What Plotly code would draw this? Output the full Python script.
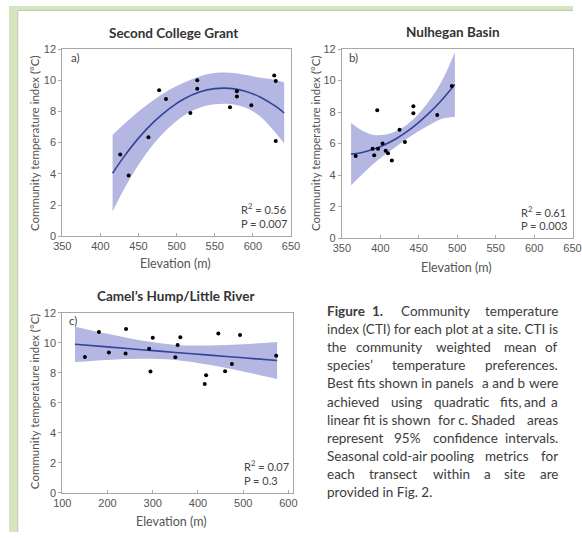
import plotly.graph_objects as go

# ---------------- data ----------------
# Panel a: Second College Grant
a_elev = [426, 437, 463, 477, 486, 518, 527, 527, 570, 579, 579, 598, 628, 630, 630]
a_cti = [5.24, 3.90, 6.35, 9.36, 8.80, 7.90, 10.0, 9.45, 8.27, 9.30, 8.95, 8.40, 10.3, 9.95, 6.10]
a_fit_x = [416, 430, 450, 470, 490, 510, 530, 550, 570, 590, 610, 630, 641]
a_fit_y = [4.04, 5.04, 6.29, 7.33, 8.17, 8.81, 9.24, 9.46, 9.48, 9.30, 8.91, 8.32, 7.90]
a_ci_hi = [6.49, 7.14, 7.99, 8.73, 9.37, 9.86, 10.24, 10.46, 10.48, 10.35, 10.16, 10.02, 9.85]
a_ci_lo = [1.59, 2.94, 4.59, 5.93, 6.97, 7.76, 8.24, 8.46, 8.48, 8.25, 7.66, 6.62, 5.95]

# Panel b: Nulhegan Basin
b_elev = [368, 392, 390, 396, 397, 403, 407, 410, 415, 425, 432, 443, 443, 474, 493]
b_cti = [5.22, 5.26, 5.68, 8.12, 5.68, 6.01, 5.55, 5.39, 4.93, 6.88, 6.11, 8.37, 7.92, 7.81, 9.66]
b_fit_x = [362, 375, 390, 405, 420, 435, 450, 465, 480, 497]
b_fit_y = [5.33, 5.42, 5.62, 5.91, 6.29, 6.77, 7.35, 8.01, 8.77, 9.75]
b_ci_hi = [7.30, 6.87, 6.57, 6.56, 6.79, 7.22, 7.90, 8.81, 9.97, 11.80]
b_ci_lo = [3.36, 3.97, 4.67, 5.26, 5.79, 6.32, 6.80, 7.21, 7.57, 7.70]

# Panel c: Camel's Hump/Little River
c_elev = [150, 181, 203, 241, 240, 292, 295, 300, 350, 355, 361, 415, 418, 445, 460, 475, 493, 573]
c_cti = [9.07, 10.74, 9.37, 10.93, 9.30, 9.61, 8.09, 10.35, 9.04, 9.87, 10.39, 7.26, 7.85, 10.63, 8.11, 8.59, 10.54, 9.15]
c_fit_x = [128, 200, 275, 350, 425, 500, 575]
c_fit_y = [9.91, 9.74, 9.55, 9.37, 9.19, 9.01, 8.83]
c_ci_hi = [11.09, 10.61, 10.16, 9.87, 9.83, 9.92, 10.07]
c_ci_lo = [8.73, 8.87, 8.94, 8.87, 8.55, 8.10, 7.59]

titles = ["Second College Grant", "Nulhegan Basin", "Camel\u2019s Hump/Little River"]
panel_tags = ["a)", "b)", "c)"]
r2_labels = ["R<sup>2</sup> = 0.56", "R<sup>2</sup> = 0.61", "R<sup>2</sup> = 0.07"]
p_labels = ["P = 0.007", "P = 0.003", "P = 0.3"]
y_title = "Community temperature index (\u00b0C)"
x_title = "Elevation (m)"
y_ticks = [0, 2, 4, 6, 8, 10, 12]
ab_x_ticks = [350, 400, 450, 500, 550, 600, 650]
c_x_ticks = [100, 200, 300, 400, 500, 600]

# ---------------- layout helpers ----------------
W, H = 582, 538
def fx(px):
    return px / W
def fy(py):
    return 1 - py / H

BAND = "rgba(150,155,215,0.72)"
LINE = "#33439a"
AX = "#a8a8a8"
TXT = "#555555"
FONT = "Lato"

fig = go.Figure()

panels = [
    dict(x=a_elev, y=a_cti, fx_=a_fit_x, fy_=a_fit_y, hi=a_ci_hi, lo=a_ci_lo, xa="x", ya="y"),
    dict(x=b_elev, y=b_cti, fx_=b_fit_x, fy_=b_fit_y, hi=b_ci_hi, lo=b_ci_lo, xa="x2", ya="y2"),
    dict(x=c_elev, y=c_cti, fx_=c_fit_x, fy_=c_fit_y, hi=c_ci_hi, lo=c_ci_lo, xa="x3", ya="y3"),
]
for p in panels:
    fig.add_trace(go.Scatter(x=p["fx_"], y=p["lo"], mode="lines", line=dict(width=0, shape="spline"),
                             xaxis=p["xa"], yaxis=p["ya"], showlegend=False, hoverinfo="skip"))
    fig.add_trace(go.Scatter(x=p["fx_"], y=p["hi"], mode="lines", line=dict(width=0, shape="spline"),
                             fill="tonexty", fillcolor=BAND,
                             xaxis=p["xa"], yaxis=p["ya"], showlegend=False, hoverinfo="skip"))
    fig.add_trace(go.Scatter(x=p["fx_"], y=p["fy_"], mode="lines", line=dict(color=LINE, width=1.6, shape="spline"),
                             xaxis=p["xa"], yaxis=p["ya"], showlegend=False))
    fig.add_trace(go.Scatter(x=p["x"], y=p["y"], mode="markers", marker=dict(color="black", size=4),
                             xaxis=p["xa"], yaxis=p["ya"], showlegend=False))

# plot area pixel boxes: (left, right, top, bottom)
boxes = [(55, 291, 44, 235.5), (343.5, 581.5, 44, 237.5), (55, 293, 314, 498)]
xranges = [[350, 650], [350, 650], [100, 610]]
xtickss = [ab_x_ticks, ab_x_ticks, c_x_ticks]

axis_common = dict(showgrid=False, zeroline=False, showline=True, linecolor=AX, linewidth=1,
                   mirror=True, tickfont=dict(family="Liberation Sans", size=11, color=TXT))
for i, (l, r, t, b) in enumerate(boxes):
    sx = "" if i == 0 else str(i + 1)
    fig.update_layout(**{
        "xaxis" + sx: dict(domain=[fx(l), fx(r)], range=xranges[i], tickvals=xtickss[i],
                           anchor="y" + sx, ticks="inside", ticklen=3, tickcolor=AX, **axis_common),
        "yaxis" + sx: dict(domain=[fy(b), fy(t)], range=[0, 12], tickvals=y_ticks,
                           anchor="x" + sx, ticks="outside", ticklen=3, tickcolor=AX, **axis_common),
    })

ann = []
title_pos = [(170, 28), (458, 27), (172, 297)]
xtitle_pos = [(172, 263), (462, 267), (168, 527)]
ytitle_pos = [(27, 140), (317, 140), (27, 404)]
tag_pos = [(62, 53), (349, 53), (60, 322)]
r2_pos = [(237, 207), (526, 210), (240, 470)]
p_pos = [(237, 222), (526, 225), (240, 485)]
for i in range(3):
    ann.append(dict(text="<b>" + titles[i] + "</b>", x=fx(title_pos[i][0]), y=fy(title_pos[i][1]),
                    xref="paper", yref="paper", showarrow=False, xanchor="center", yanchor="middle",
                    font=dict(family=FONT, size=13.5, color="#333333")))
    ann.append(dict(text=x_title, x=fx(xtitle_pos[i][0]), y=fy(xtitle_pos[i][1]),
                    xref="paper", yref="paper", showarrow=False, xanchor="center", yanchor="middle",
                    font=dict(family=FONT, size=12.5, color=TXT)))
    ann.append(dict(text=y_title, x=fx(ytitle_pos[i][0]), y=fy(ytitle_pos[i][1]), textangle=-90,
                    xref="paper", yref="paper", showarrow=False, xanchor="center", yanchor="middle",
                    font=dict(family=FONT, size=11.5, color=TXT)))
    ann.append(dict(text=panel_tags[i], x=fx(tag_pos[i][0]), y=fy(tag_pos[i][1]),
                    xref="paper", yref="paper", showarrow=False, xanchor="left", yanchor="middle",
                    font=dict(family=FONT, size=11.5, color="#444444")))
    ann.append(dict(text=r2_labels[i], x=fx(r2_pos[i][0]), y=fy(r2_pos[i][1]),
                    xref="paper", yref="paper", showarrow=False, xanchor="left", yanchor="middle",
                    font=dict(family=FONT, size=11, color="#444444")))
    ann.append(dict(text=p_labels[i], x=fx(p_pos[i][0]), y=fy(p_pos[i][1]),
                    xref="paper", yref="paper", showarrow=False, xanchor="left", yanchor="middle",
                    font=dict(family=FONT, size=11, color="#444444")))

# caption (justified by placing word groups)
caption_lines = [
    [("<b>Figure</b>", 326, "left"), ("<b>1.</b>", 373, "left"), ("Community", 440, "center"), ("temperature", 569, "right")],
    [("index (CTI) for each plot at a site. CTI", 326, "left"), ("is", 569, "right")],
    [("the", 326, "left"), ("community", 392, "center"), ("weighted", 469, "center"), ("mean", 527, "center"), ("of", 569, "right")],
    [("species\u2019", 326, "left"), ("temperature", 433, "center"), ("preferences.", 569, "right")],
    [("Best fits shown in panels", 326, "left"), ("a and b", 510, "center"), ("were", 569, "right")],
    [("achieved", 326, "left"), ("using", 410, "center"), ("quadratic", 467, "center"), ("fits,", 517, "center"), ("and", 543, "center"), ("a", 569, "right")],
    [("linear fit is shown", 326, "left"), ("for c. Shaded", 482, "center"), ("areas", 569, "right")],
    [("represent", 326, "left"), ("95%", 411, "center"), ("confidence", 471, "center"), ("intervals.", 569, "right")],
    [("Seasonal cold-air pooling", 326, "left"), ("metrics", 514, "center"), ("for", 569, "right")],
    [("each", 326, "left"), ("transect", 396, "center"), ("within", 457, "center"), ("a", 494, "center"), ("site", 522, "center"), ("are", 569, "right")],
    [("provided in Fig. 2.", 326, "left")],
]
line_y = [312, 330, 349, 367.5, 386, 405, 423, 441.5, 460, 479, 497]
for words, ly in zip(caption_lines, line_y):
    for txt, wx, anc in words:
        ann.append(dict(text=txt, x=fx(wx), y=fy(ly), xref="paper", yref="paper", showarrow=False,
                        xanchor=anc, yanchor="middle", font=dict(family=FONT, size=13.5, color="#3c3c3c")))

fig.update_layout(
    width=W, height=H, margin=dict(l=0, r=0, t=0, b=0),
    paper_bgcolor="white", plot_bgcolor="rgba(0,0,0,0)",
    annotations=ann,
    shapes=[
        dict(type="rect", xref="paper", yref="paper", x0=0, x1=1, y0=fy(4), y1=1,
             fillcolor="#d7e4c0", line=dict(width=0), layer="below"),
        dict(type="rect", xref="paper", yref="paper", x0=0, x1=fx(8.5), y0=0, y1=1,
             fillcolor="#d7e4c0", line=dict(width=0), layer="below"),
        dict(type="line", xref="paper", yref="paper", x0=fx(9), x1=fx(9), y0=0, y1=fy(4.5),
             line=dict(color="#b9c7a3", width=1)),
        dict(type="line", xref="paper", yref="paper", x0=fx(9), x1=1, y0=fy(4.5), y1=fy(4.5),
             line=dict(color="#b9c7a3", width=1)),
    ],
)

fig.write_html("out.html")
